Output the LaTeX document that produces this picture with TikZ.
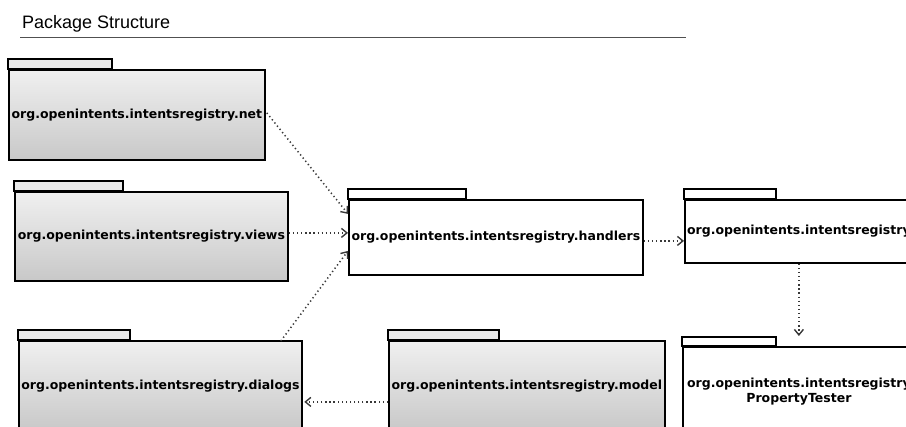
\documentclass[tikz,border=0pt]{standalone}
\usepackage{fontspec}
\setmainfont{Liberation Sans}
\newfontfamily\pkgfont{DejaVu Sans}
\usetikzlibrary{arrows.meta}

\definecolor{pkgtop}{HTML}{F0F0F0}
\definecolor{pkgbot}{HTML}{C8C8C8}
\definecolor{tabfill}{HTML}{EAEAEA}
\definecolor{depgray}{HTML}{383838}
\definecolor{rulegray}{HTML}{505050}

\tikzset{
  pkgbody/.style={draw=black, line width=1.8pt, anchor=north west, inner sep=0pt,
    align=center, font=\pkgfont\bfseries\fontsize{12.5}{14.8}\selectfont},
  graypkg/.style={pkgbody, top color=pkgtop, bottom color=pkgbot},
  whitepkg/.style={pkgbody, fill=white},
  graytab/.style={draw=black, line width=1.8pt, fill=tabfill},
  whitetab/.style={draw=black, line width=1.8pt, fill=white},
  dep/.style={draw=depgray, line width=1.5pt, dash pattern=on 1.3pt off 2.8pt,
    -{Straight Barb[length=5.5pt,width=9pt,line width=1.4pt]}}
}

\begin{document}
\begin{tikzpicture}[x=1pt,y=-1pt]
\useasboundingbox (0,0) rectangle (906,427);
\clip (0,0) rectangle (906,427);

% heading
\node[anchor=base west, inner sep=0pt, font=\fontsize{18}{20}\selectfont] (title) at (22,28.3) {Package Structure};
\draw[rulegray, line width=1pt] (20,37.7) -- (686,37.7);

% packages
\node[graypkg, minimum width=256pt, minimum height=90pt] (net) at (8,69) {org.openintents.intentsregistry.net};
\draw[graytab] (net.north west) rectangle ++(104,-10);

\node[graypkg, minimum width=273pt, minimum height=89pt] (views) at (14,191) {org.openintents.intentsregistry.views};
\draw[graytab] (views.north west) rectangle ++(109,-10);

\node[whitepkg, minimum width=294pt, minimum height=75pt] (handlers) at (348,199) {org.openintents.intentsregistry.handlers};
\draw[whitetab] (handlers.north west) rectangle ++(118,-10);

\node[whitepkg, minimum width=228pt, minimum height=63pt] (registry) at (684,199) {org.openintents.intentsregistry};
\draw[whitetab] (registry.north west) rectangle ++(92,-10);

\node[whitepkg, minimum width=232pt, minimum height=90pt] (tester) at (682,346) {org.openintents.intentsregistry\\PropertyTester};
\draw[whitetab] (tester.north west) rectangle ++(94,-9);

\node[graypkg, minimum width=283pt, minimum height=90pt] (dialogs) at (18,340) {org.openintents.intentsregistry.dialogs};
\draw[graytab] (dialogs.north west) rectangle ++(112,-10);

\node[graypkg, minimum width=276pt, minimum height=90pt] (model) at (388,340) {org.openintents.intentsregistry.model};
\draw[graytab] (model.north west) rectangle ++(111,-10);

% dependencies
\draw[dep] ([xshift=1pt,yshift=2pt]net.east) -- ([yshift=23.5pt]handlers.west);
\draw[dep] ([yshift=3.5pt]views.east) coordinate (v1) -- (v1 -| handlers.west);
\draw[dep] ([xshift=-22pt,yshift=-1pt]dialogs.north east) -- ([yshift=-13.5pt]handlers.west);
\draw[dep] ([yshift=-3.5pt]handlers.east) coordinate (h1) -- (h1 -| registry.west);
\draw[dep] (registry.south) -- ([yshift=10pt]tester.north);
\draw[dep] ([yshift=-16pt]model.west) coordinate (m1) -- ([xshift=1.5pt]m1 -| dialogs.east);
\end{tikzpicture}
\end{document}
